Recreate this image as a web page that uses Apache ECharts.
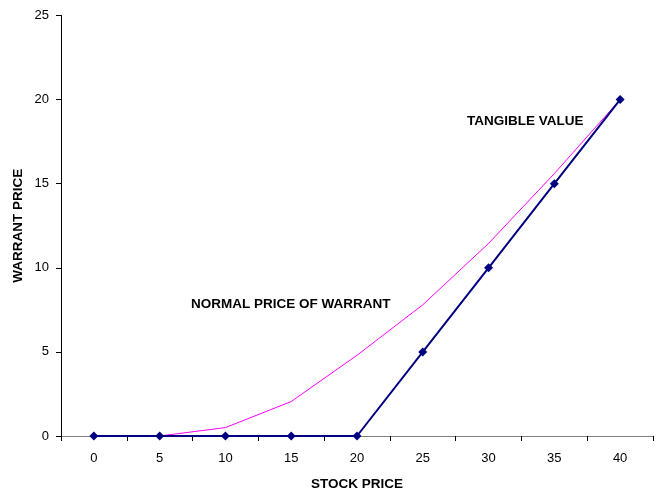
<!DOCTYPE html>
<html><head><meta charset="utf-8">
<script src="https://cdn.jsdelivr.net/npm/echarts@6/dist/echarts.min.js"></script>
<style>html,body{margin:0;padding:0;background:#fff}#c{width:660px;height:491px}</style>
</head><body><div id="c"></div>
<script>
var stockPrice = ['0','5','10','15','20','25','30','35','40'];
var normalPrice = [0, 0, 0.5, 2.05, 4.8, 7.8, 11.45, 15.6, 20];
var tangibleValue = [0, 0, 0, 0, 0, 5, 10, 15, 20];
var chart = echarts.init(document.getElementById('c'));
var font = 'Liberation Sans, Arial, sans-serif';
chart.setOption({
  animation: false,
  backgroundColor: '#fff',
  grid: {left: 61, right: 7, top: 15.5, bottom: 55, containLabel: false, outerBoundsMode: 'none'},
  xAxis: {
    type: 'category', data: stockPrice, boundaryGap: true,
    name: 'STOCK PRICE', nameLocation: 'middle', nameGap: 41, nameMoveOverlap: false,
    nameTextStyle: {fontFamily: font, fontWeight: 'bold', fontSize: 13.5, color: '#000'},
    axisLine: {lineStyle: {color: '#808080', width: 1}},
    axisTick: {show: true, length: 5, lineStyle: {color: '#000'}, alignWithLabel: false},
    axisLabel: {fontFamily: font, fontSize: 13, color: '#000', margin: 16},
    splitLine: {show: false}
  },
  yAxis: {
    type: 'value', min: 0, max: 25, interval: 5,
    name: 'WARRANT PRICE', nameLocation: 'middle', nameGap: 36, nameRotate: 90, nameMoveOverlap: false,
    nameTextStyle: {fontFamily: font, fontWeight: 'bold', fontSize: 13.5, color: '#000'},
    axisLine: {show: true, lineStyle: {color: '#000', width: 1}},
    axisTick: {show: true, length: 5, lineStyle: {color: '#000'}},
    axisLabel: {fontFamily: font, fontSize: 13, color: '#000', margin: 12},
    splitLine: {show: false}
  },
  series: [
    {name: 'Normal price of warrant', type: 'line', data: normalPrice, showSymbol: false, symbol: 'none',
     lineStyle: {color: '#FF00FF', width: 1}, itemStyle: {color: '#FF00FF'}, z: 2},
    {name: 'Tangible value', type: 'line', data: tangibleValue, symbol: 'diamond', symbolSize: 9,
     lineStyle: {color: '#000080', width: 2}, itemStyle: {color: '#000080'}, z: 3}
  ],
  graphic: [
    {type: 'text', left: 467, top: 114, style: {text: 'TANGIBLE VALUE', font: 'bold 13.5px ' + font, fill: '#000'}},
    {type: 'text', left: 191, top: 297, style: {text: 'NORMAL PRICE OF WARRANT', font: 'bold 13.5px ' + font, fill: '#000'}}
  ]
});
</script></body></html>
